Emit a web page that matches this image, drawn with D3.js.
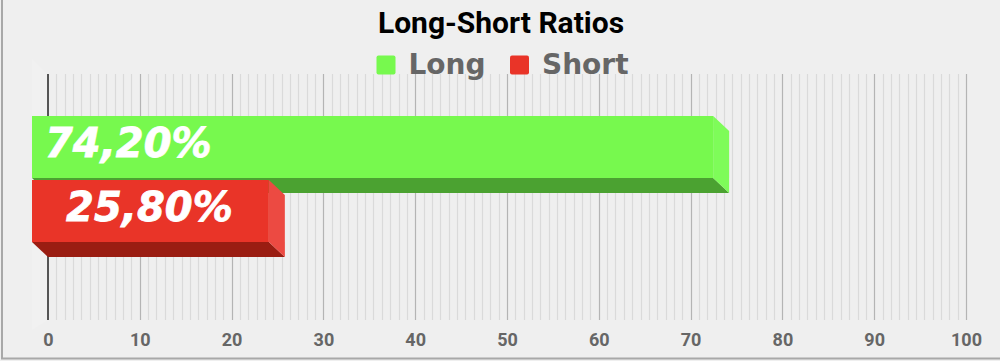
<!DOCTYPE html>
<html><head><meta charset="utf-8">
<script src="https://cdn.jsdelivr.net/npm/d3@7"></script>
<style>html,body{margin:0;padding:0;background:#efefef;}svg{display:block;}</style>
</head><body>
<svg id="c" width="1000" height="361"></svg>
<script>
const title = "Long-Short Ratios";
const seriesNames = ["Long", "Short"];
const seriesValues = [74.2, 25.8];
const seriesLabels = ["74,20%", "25,80%"];
const tickValues = [0, 10, 20, 30, 40, 50, 60, 70, 80, 90, 100];
const frontColors = ["#77f94e", "#e93428"];
const sideColors = ["#7efc59", "#ec4a42"];
const bottomColors = ["#4ba231", "#9a1d12"];

const W = 1000, H = 361;
const svg = d3.select("#c");
const depthX = 16, depthY = 15;
const plotTop = 74, plotBottom = 320;

svg.append("rect").attr("width", W).attr("height", H).attr("fill", "#efefef");

const x = d3.scaleLinear().domain([0, 100]).range([48, 966]);
const y = d3.scaleBand().domain(seriesNames).range([131, 257]).paddingInner(0.03125).paddingOuter(0);

// faint side wall
svg.append("path")
  .attr("d", `M${x(0) - depthX},${plotTop - depthY}L${x(0)},${plotTop}L${x(0)},${plotBottom}L${x(0) - depthX},${plotBottom + 10}Z`)
  .attr("fill", "#f1f1f1");

// minor gridlines
const minor = [];
for (let i = 0; i < tickValues.length - 1; i++) {
  for (let k = 1; k < 11; k++) minor.push(tickValues[i] + (tickValues[i + 1] - tickValues[i]) * k / 11);
}
svg.append("g").selectAll("line").data(minor).join("line")
  .attr("x1", d => Math.round(x(d)) + 0.5).attr("x2", d => Math.round(x(d)) + 0.5)
  .attr("y1", plotTop).attr("y2", plotBottom)
  .attr("stroke", "#dadada").attr("stroke-width", 1.2);

// major gridlines
svg.append("g").selectAll("line").data(tickValues.slice(1)).join("line")
  .attr("x1", d => Math.round(x(d)) + 0.5).attr("x2", d => Math.round(x(d)) + 0.5)
  .attr("y1", plotTop).attr("y2", plotBottom)
  .attr("stroke", "#b4b4b4").attr("stroke-width", 1.2);

// axis line
svg.append("line").attr("x1", x(0)).attr("x2", x(0)).attr("y1", plotTop).attr("y2", plotBottom)
  .attr("stroke", "#222").attr("stroke-width", 1.5);

// tick labels via d3 axis
const axis = d3.axisBottom(x).tickValues(tickValues).tickSize(0).tickPadding(0).tickFormat(d3.format("d"));
const ag = svg.append("g").attr("transform", `translate(0,${plotBottom})`).call(axis);
ag.select(".domain").remove();
ag.selectAll("text")
  .attr("y", 25.5).attr("dy", null)
  .attr("font-family", "Roboto").attr("font-weight", "bold").attr("font-size", 18)
  .attr("fill", "#666");

// bars (3D)
const bars = svg.append("g");
seriesNames.forEach((name, i) => {
  const v = seriesValues[i];
  const bx0 = x(0), bx1 = x(v);
  const by0 = y(name), by1 = y(name) + y.bandwidth();
  const fx0 = bx0 - depthX, fx1 = bx1 - depthX;
  const fy0 = by0 - depthY, fy1 = by1 - depthY;
  const g = bars.append("g");
  g.append("path").attr("d", `M${fx0},${fy1}L${fx1},${fy1}L${bx1},${by1}L${bx0},${by1}Z`)
    .attr("fill", bottomColors[i]);
  g.append("path").attr("d", `M${fx1},${fy0}L${bx1},${by0}L${bx1},${by1}L${fx1},${fy1}Z`)
    .attr("fill", sideColors[i]);
  g.append("rect").attr("x", fx0).attr("y", fy0).attr("width", fx1 - fx0).attr("height", fy1 - fy0)
    .attr("fill", frontColors[i]);
  const t = g.append("text")
    .attr("font-family", "DejaVu Sans").attr("font-weight", "bold").attr("font-style", "italic")
    .attr("font-size", 40).attr("fill", "#fff")
    .attr("stroke", "#fff").attr("stroke-width", 0.8)
    .attr("y", fy1 - 21)
    .text(seriesLabels[i]);
  if (i === 0) t.attr("x", x(0) - 3).attr("text-anchor", "start");
  else t.attr("x", (fx0 + fx1) / 2 - 1).attr("text-anchor", "middle");
});

// title
svg.append("text").attr("x", 501).attr("y", 33).attr("text-anchor", "middle")
  .attr("font-family", "Roboto").attr("font-weight", "bold").attr("font-size", 30).attr("fill", "#000")
  .text(title);

// legend
const legendX = [376.5, 510];
const leg = svg.append("g");
seriesNames.forEach((name, i) => {
  leg.append("rect").attr("x", legendX[i]).attr("y", 55.5).attr("width", 19).attr("height", 19)
    .attr("rx", 2).attr("fill", frontColors[i]);
  leg.append("text").attr("x", legendX[i] + 32).attr("y", 73.5)
    .attr("font-family", "DejaVu Sans").attr("font-weight", "bold").attr("font-size", 28).attr("fill", "#666")
    .text(name);
});

// border left & bottom
svg.append("path").attr("d", `M2,0L2,358.5L1000,358.5`).attr("fill", "none")
  .attr("stroke", "#a8a8a8").attr("stroke-width", 2);
</script>
</body></html>
